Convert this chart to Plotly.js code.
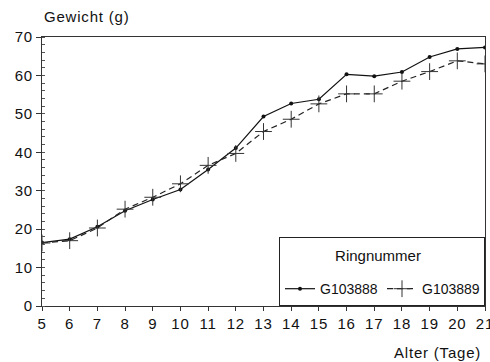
<!DOCTYPE html>
<html>
<head>
<meta charset="utf-8">
<script src="https://cdn.plot.ly/plotly-3.0.1.min.js"></script>
<style>html,body{margin:0;padding:0;background:#fff}#chart{width:490px;height:362px}svg text{letter-spacing:0.8px}.legend text{letter-spacing:0 !important}</style>
</head>
<body>
<div id="chart"></div>
<script>
var days = [5,6,7,8,9,10,11,12,13,14,15,16,17,18,19,20,21];
var g103888 = [16.5,17.4,20.6,24.8,27.7,30.3,35.5,41.1,49.3,52.7,53.8,60.3,59.8,60.9,64.8,66.9,67.3];
var g103889 = [16.4,17.0,20.3,25.2,28.3,31.8,36.6,39.7,45.4,48.6,52.6,55.2,55.2,58.5,61.0,63.8,63.0];
var xTicks = [5,6,7,8,9,10,11,12,13,14,15,16,17,18,19,20,21];
var yTicks = [0,10,20,30,40,50,60,70];

var font = {family: 'Liberation Sans, Arial, sans-serif', size: 15, color: '#111'};

var traces = [
  {x: days, y: g103888, name: 'G103888', mode: 'lines+markers',
   line: {color: '#111', width: 1.2},
   marker: {symbol: 'circle', size: 4, color: '#111'}},
  {x: days, y: g103889, name: 'G103889', mode: 'lines+markers',
   line: {color: '#222', width: 1.2, dash: '6px,4px'},
   marker: {symbol: 'cross-thin', size: 12, line: {color: '#333', width: 1}}}
];

var layout = {
  width: 490, height: 362,
  margin: {l: 42, r: 5, t: 37, b: 56},
  paper_bgcolor: '#fff', plot_bgcolor: '#fff',
  font: font,
  showlegend: true,
  legend: {
    x: 1, xanchor: 'right', y: 0, yanchor: 'bottom',
    orientation: 'h',
    bgcolor: '#fff', bordercolor: '#222', borderwidth: 1,
    title: {text: ' <br><span style="font-size:15px">Ringnummer</span><br> ', side: 'top center',
            font: {family: font.family, size: 9, color: '#111'}},
    font: {family: font.family, size: 14, color: '#111'},
    itemwidth: 30,
    entrywidth: 57, entrywidthmode: 'pixels',
    tracegroupgap: 0
  },
  xaxis: {
    range: [5, 21], tickvals: xTicks, ticktext: xTicks.map(String),
    showgrid: false, zeroline: false,
    showline: true, linecolor: '#333', linewidth: 1, mirror: true,
    ticks: 'outside', ticklen: 4, tickcolor: '#333',
    tickfont: font, ticklabeloverflow: 'allow'
  },
  yaxis: {
    range: [0, 70], tickvals: yTicks, ticktext: yTicks.map(String),
    showgrid: false, zeroline: false,
    showline: true, linecolor: '#333', linewidth: 1, mirror: true,
    ticks: 'outside', ticklen: 5, tickcolor: '#333',
    tickfont: font,
    minor: {dtick: 2, ticks: 'inside', ticklen: 3, tickcolor: '#555', showgrid: false}
  },
  annotations: [
    {text: 'Gewicht (g)', xref: 'paper', yref: 'paper', x: 0, y: 1, xanchor: 'left', yanchor: 'bottom',
     yshift: 10, showarrow: false, font: font},
    {text: 'Alter (Tage)', xref: 'paper', yref: 'paper', x: 1, y: 0, xanchor: 'right', yanchor: 'top',
     yshift: -36, xshift: -2, showarrow: false, font: font}
  ]
};

Plotly.newPlot('chart', traces, layout, {displayModeBar: false, staticPlot: true});
</script>
</body>
</html>
